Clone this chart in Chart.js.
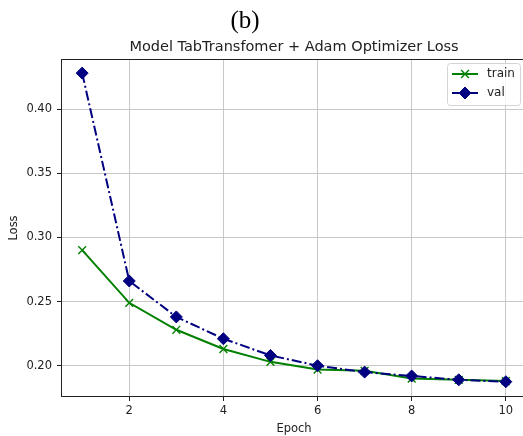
<!DOCTYPE html>
<html>
<head>
<meta charset="utf-8">
<script src="https://cdn.jsdelivr.net/npm/chart.js@4.4.1/dist/chart.umd.min.js"></script>
<style>
    html, body { margin: 0; padding: 0; background: #fff; overflow: hidden; }
    #wrap { position: absolute; left: 0; top: 0; width: 540px; height: 436px; }
</style>
</head>
<body>
<div id="wrap"><canvas id="lossChart" width="540" height="436"></canvas></div>
<script>
// values
const epochs = [1, 2, 3, 4, 5, 6, 7, 8, 9, 10];
const trainLoss = [0.290, 0.249, 0.228, 0.213, 0.203, 0.197, 0.196, 0.190, 0.189, 0.188];
const valLoss = [0.428, 0.266, 0.238, 0.221, 0.208, 0.200, 0.195, 0.192, 0.189, 0.1875];
const xTicks = [2, 4, 6, 8, 10];
const yTicks = [0.20, 0.25, 0.30, 0.35, 0.40];

const panelLabel = '(b)';
const chartTitle = 'Model TabTransfomer + Adam Optimizer Loss';

const FONT = '"DejaVu Sans", sans-serif';
const TEXT = '#222';
const GRID = '#c8c8c8';

function toPoints(values) {
    return epochs.map((e, i) => ({ x: e, y: values[i] }));
}

// frame, titles and a matplotlib-like legend
const decorations = {
    id: 'decorations',
    afterDraw(chart) {
        const { ctx, chartArea: a } = chart;
        ctx.save();

        ctx.strokeStyle = '#222';
        ctx.lineWidth = 1;
        ctx.strokeRect(a.left + 0.5, a.top + 0.5, a.right - a.left - 1, a.bottom - a.top - 1);

        ctx.fillStyle = '#000';
        ctx.font = '25px "Liberation Serif", serif';
        ctx.textAlign = 'center';
        ctx.textBaseline = 'alphabetic';
        ctx.fillText(panelLabel, 245, 28);

        ctx.fillStyle = TEXT;
        ctx.font = '14.5px ' + FONT;
        ctx.textBaseline = 'middle';
        ctx.fillText(chartTitle, (a.left + a.right) / 2, 47);

        // legend box
        const bx = 447, by = 63, bw = 73, bh = 42;
        ctx.beginPath();
        ctx.roundRect(bx + 0.5, by + 0.5, bw, bh, 3);
        ctx.fillStyle = 'rgba(255,255,255,0.8)';
        ctx.fill();
        ctx.strokeStyle = '#d4d4d4';
        ctx.stroke();

        chart.data.datasets.forEach((ds, i) => {
            const y = 74 + i * 19;
            ctx.beginPath();
            ctx.strokeStyle = ds.borderColor;
            ctx.lineWidth = ds.borderWidth;
            ctx.setLineDash(ds.borderDash || []);
            ctx.moveTo(452, y);
            ctx.lineTo(478, y);
            ctx.stroke();
            ctx.setLineDash([]);
            ctx.fillStyle = ds.pointBackgroundColor;
            ctx.strokeStyle = ds.pointBorderColor;
            ctx.lineWidth = ds.pointBorderWidth;
            Chart.helpers.drawPoint(ctx, { pointStyle: ds.pointStyle, radius: ds.pointRadius, rotation: 0, borderWidth: ds.pointBorderWidth }, 465, y);

            ctx.fillStyle = TEXT;
            ctx.font = '12px ' + FONT;
            ctx.textAlign = 'left';
            ctx.textBaseline = 'middle';
            ctx.fillText(ds.label, 487, y);
        });

        ctx.restore();
    }
};

new Chart(document.getElementById('lossChart'), {
    type: 'line',
    data: {
        datasets: [
            {
                label: 'train',
                data: toPoints(trainLoss),
                borderColor: '#008000',
                borderWidth: 2,
                pointStyle: 'crossRot',
                pointRadius: 5.5,
                pointBorderWidth: 1.4,
                pointBackgroundColor: '#008000',
                pointBorderColor: '#008000',
                order: 1
            },
            {
                label: 'val',
                data: toPoints(valLoss),
                borderColor: '#000080',
                borderWidth: 2,
                borderDash: [10, 3, 2, 3],
                pointStyle: 'rectRot',
                pointRadius: 6,
                pointBorderWidth: 1,
                pointBackgroundColor: '#000080',
                pointBorderColor: '#000080',
                order: 0
            }
        ]
    },
    options: {
        responsive: false,
        animation: false,
        layout: { padding: { top: 59, right: 13, left: 0, bottom: 0 } },
        plugins: {
            legend: { display: false },
            title: { display: false },
            tooltip: { enabled: false }
        },
        scales: {
            x: {
                type: 'linear',
                min: 0.55,
                max: 10.45,
                afterBuildTicks: scale => { scale.ticks = xTicks.map(v => ({ value: v })); },
                afterFit: scale => { scale.height = 39; },
                grid: { color: GRID, lineWidth: 1, tickColor: '#222', tickLength: 4 },
                border: { display: false },
                ticks: { color: TEXT, font: { family: FONT, size: 11.5 }, padding: 3, maxRotation: 0 },
                title: { display: true, text: 'Epoch', color: TEXT, font: { family: FONT, size: 11.5 }, padding: { top: 0, bottom: 0 } }
            },
            y: {
                type: 'linear',
                min: 0.1756,
                max: 0.439,
                afterBuildTicks: scale => { scale.ticks = yTicks.map(v => ({ value: v })); },
                afterFit: scale => { scale.width = 61; },
                grid: { color: GRID, lineWidth: 1, tickColor: '#222', tickLength: 4 },
                border: { display: false },
                ticks: {
                    color: TEXT,
                    font: { family: FONT, size: 11.5 },
                    padding: 5,
                    callback: v => v.toFixed(2)
                },
                title: { display: true, text: 'Loss', color: TEXT, font: { family: FONT, size: 11.5 }, padding: { top: 7, bottom: 0 } }
            }
        }
    },
    plugins: [decorations]
});
</script>
</body>
</html>
